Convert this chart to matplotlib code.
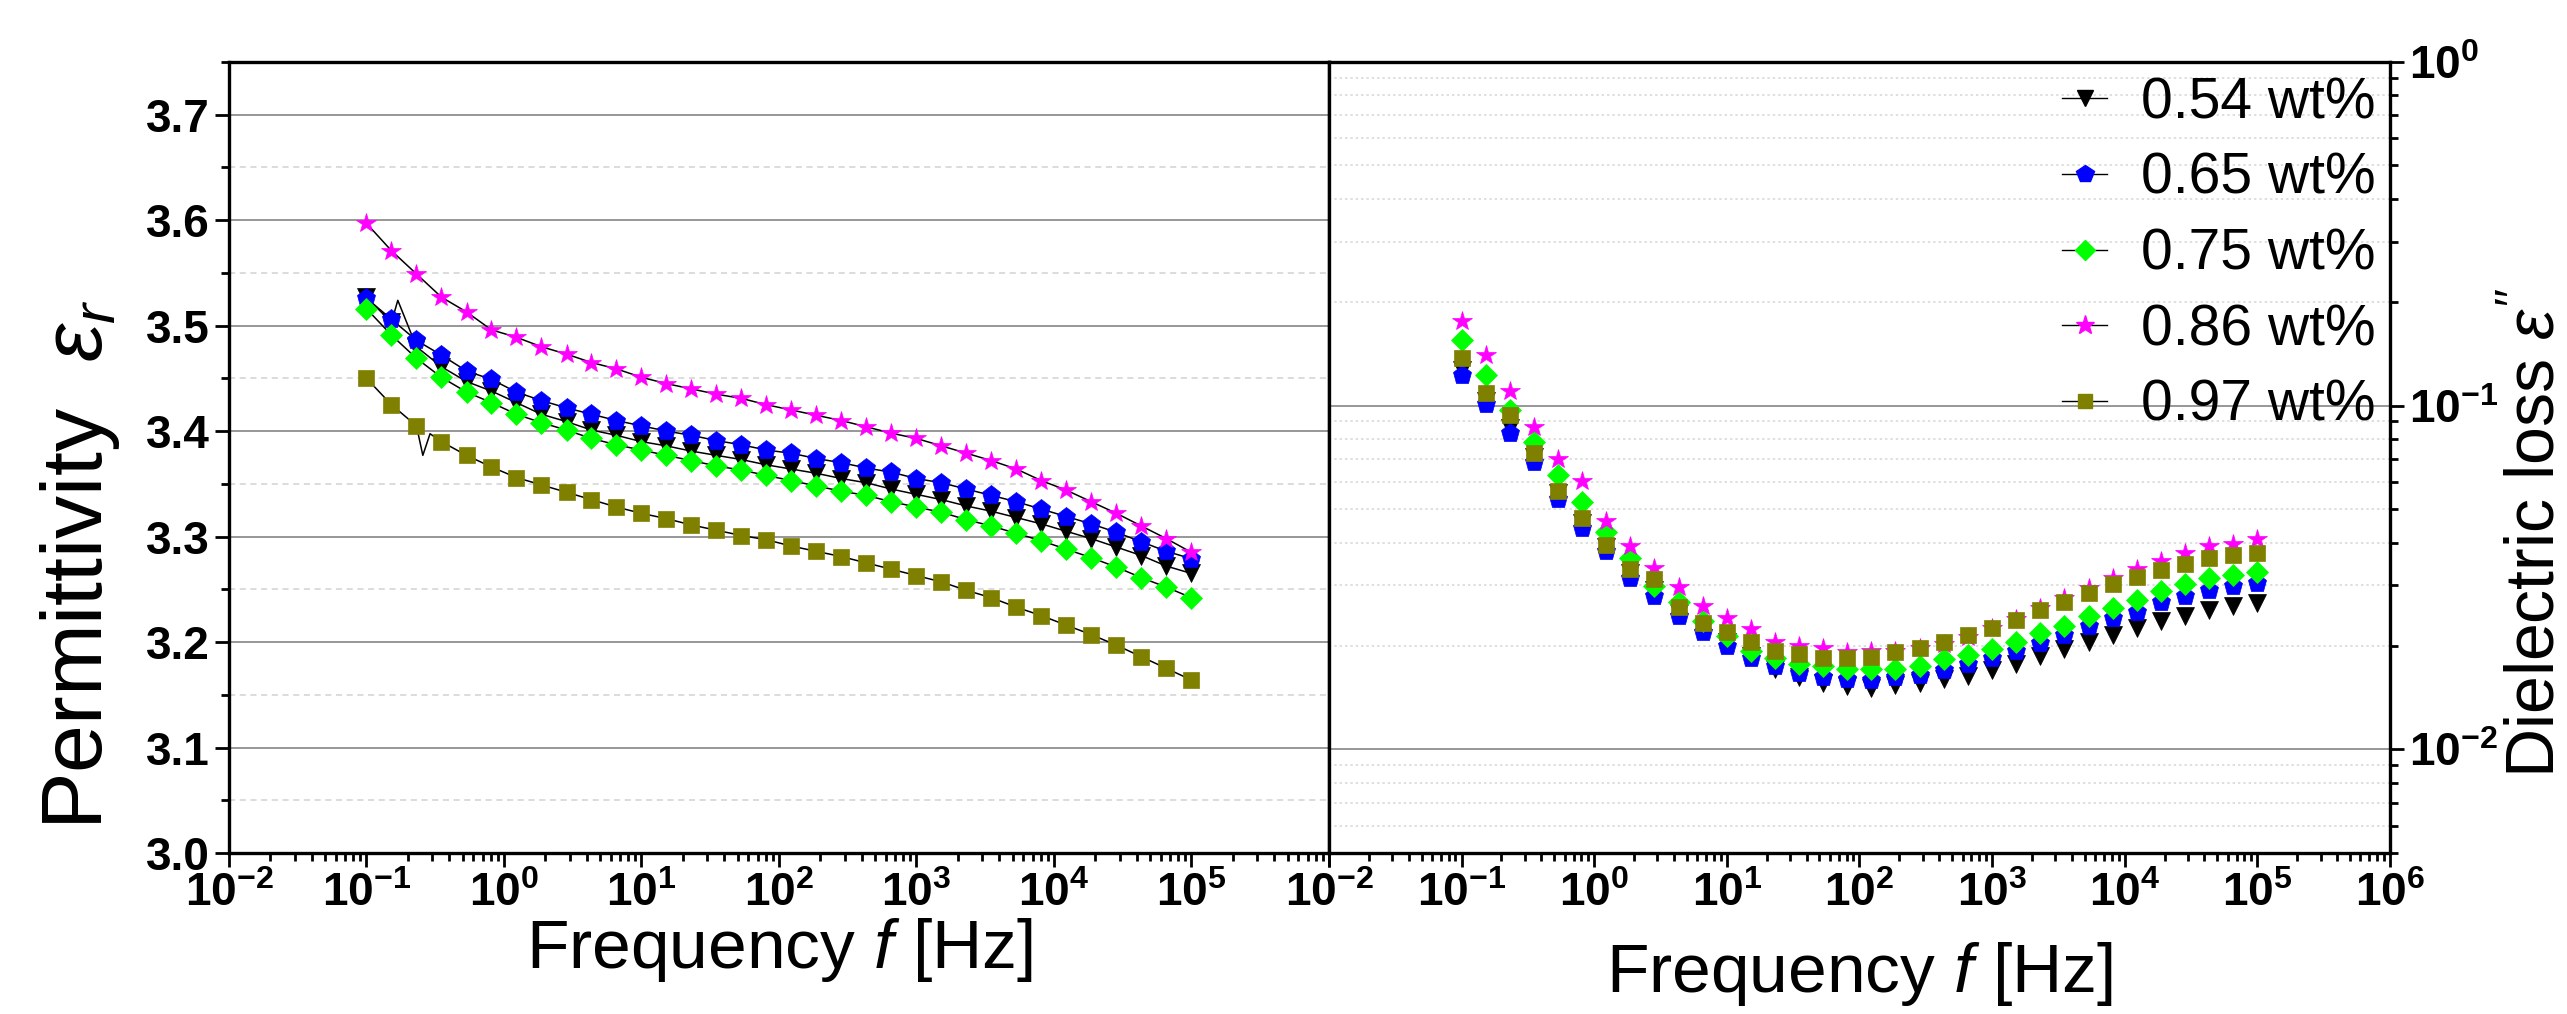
import matplotlib
matplotlib.use('Agg')
from matplotlib import pyplot as plt
from matplotlib.lines import Line2D
from matplotlib.ticker import FixedLocator, FixedFormatter, LogLocator, NullFormatter

plt.rcParams['font.family'] = ['Liberation Sans', 'DejaVu Sans']
plt.rcParams['mathtext.fontset'] = 'custom'
plt.rcParams['mathtext.rm'] = 'Liberation Sans'
plt.rcParams['mathtext.it'] = 'Liberation Sans:italic'
plt.rcParams['mathtext.bf'] = 'Liberation Sans:bold'

# 测量频率 (Hz)
freq = [0.1, 0.152, 0.231, 0.351, 0.534, 0.811, 1.23, 1.87, 2.85, 4.33, 6.58,
        10, 15.2, 23.1, 35.1, 53.4, 81.1, 123, 187, 285, 433, 658,
        1000, 1520, 2310, 3510, 5340, 8110, 12300, 18700, 28500, 43300, 65800, 100000]

labels = ['0.54 wt%', '0.65 wt%', '0.75 wt%', '0.86 wt%', '0.97 wt%']
colors = ['black', '#0000ff', '#00ff00', '#ff00ff', '#808000']
markers = ['v', 'p', 'D', '*', 's']
msizes = [13, 14, 11, 15, 11]

# 介电常数 eps_r
eps_054 = [3.527, 3.503, 3.480, 3.461, 3.447, 3.438, 3.427, 3.416, 3.409, 3.401, 3.396,
           3.390, 3.386, 3.381, 3.377, 3.373, 3.368, 3.364, 3.360, 3.355, 3.351, 3.345,
           3.340, 3.335, 3.329, 3.324, 3.318, 3.312, 3.305, 3.298, 3.290, 3.282, 3.272, 3.265]
eps_065 = [3.526, 3.506, 3.486, 3.472, 3.457, 3.449, 3.437, 3.429, 3.422, 3.416, 3.410,
           3.405, 3.400, 3.396, 3.391, 3.387, 3.382, 3.379, 3.374, 3.370, 3.365, 3.361,
           3.355, 3.351, 3.345, 3.339, 3.333, 3.326, 3.319, 3.312, 3.304, 3.295, 3.286, 3.279]
eps_075 = [3.516, 3.491, 3.469, 3.451, 3.437, 3.427, 3.416, 3.408, 3.401, 3.393, 3.387,
           3.382, 3.377, 3.372, 3.367, 3.363, 3.358, 3.353, 3.348, 3.343, 3.339, 3.333,
           3.328, 3.323, 3.316, 3.310, 3.303, 3.296, 3.288, 3.280, 3.271, 3.261, 3.252, 3.242]
eps_086 = [3.597, 3.571, 3.549, 3.527, 3.513, 3.496, 3.489, 3.480, 3.473, 3.465, 3.459,
           3.451, 3.445, 3.440, 3.435, 3.431, 3.425, 3.420, 3.415, 3.410, 3.404, 3.398,
           3.393, 3.386, 3.379, 3.372, 3.364, 3.353, 3.344, 3.333, 3.322, 3.310, 3.298, 3.285]
eps_097 = [3.450, 3.425, 3.405, 3.390, 3.377, 3.366, 3.356, 3.349, 3.342, 3.335, 3.328,
           3.322, 3.317, 3.311, 3.306, 3.301, 3.297, 3.291, 3.286, 3.281, 3.275, 3.269,
           3.263, 3.257, 3.249, 3.242, 3.233, 3.225, 3.216, 3.207, 3.197, 3.186, 3.175, 3.164]

# 连线中的毛刺点
spike_054_f, spike_054_v = [0.169], [3.524]
spike_097_f, spike_097_v = [0.257, 0.29], [3.377, 3.3975]

# 介电损耗 eps''
loss_054 = [0.127, 0.1035, 0.0864, 0.0707, 0.0557, 0.0457, 0.0387, 0.0327, 0.0292, 0.0250, 0.0224,
            0.0205, 0.0187, 0.0171, 0.0162, 0.0156, 0.0153, 0.0151, 0.01545, 0.0156, 0.0160, 0.0164,
            0.0170, 0.0177, 0.0187, 0.0196, 0.0205, 0.0216, 0.0226, 0.0236, 0.0245, 0.0254, 0.0261, 0.0266]
loss_065 = [0.123, 0.101, 0.0834, 0.0684, 0.0534, 0.0442, 0.0378, 0.0316, 0.0280, 0.0245, 0.0219,
            0.0200, 0.0185, 0.0175, 0.0167, 0.0162, 0.0160, 0.0159, 0.0162, 0.0165, 0.0170, 0.0177,
            0.0185, 0.0193, 0.0204, 0.0216, 0.0229, 0.0241, 0.0252, 0.0268, 0.0279, 0.0292, 0.0299, 0.0306]
loss_075 = [0.155, 0.1225, 0.0975, 0.0782, 0.0628, 0.0523, 0.0428, 0.0361, 0.0299, 0.0269, 0.0237,
            0.0214, 0.0193, 0.0185, 0.0177, 0.0175, 0.0171, 0.0171, 0.0172, 0.0175, 0.0183, 0.0188,
            0.0196, 0.0206, 0.0218, 0.0229, 0.0244, 0.0258, 0.0273, 0.0289, 0.0302, 0.0316, 0.0321, 0.0328]
loss_086 = [0.176, 0.140, 0.110, 0.0865, 0.0700, 0.0602, 0.0462, 0.0391, 0.0338, 0.0296, 0.0261,
            0.0242, 0.0224, 0.0205, 0.0200, 0.0198, 0.0192, 0.0193, 0.0194, 0.0197, 0.0203, 0.0212,
            0.0226, 0.0240, 0.0258, 0.0275, 0.0295, 0.0316, 0.0334, 0.0353, 0.0373, 0.0392, 0.0397, 0.0409]
loss_097 = [0.1374, 0.109, 0.0938, 0.0728, 0.0565, 0.0470, 0.0393, 0.0334, 0.0314, 0.0259, 0.0234,
            0.0219, 0.0205, 0.0193, 0.0189, 0.0185, 0.0184, 0.0186, 0.0192, 0.0197, 0.0206, 0.0215,
            0.0225, 0.0238, 0.0254, 0.0269, 0.0285, 0.0302, 0.0318, 0.0332, 0.0347, 0.0361, 0.0367, 0.0373]

xtick_vals = [1e-2, 1e-1, 1e0, 1e1, 1e2, 1e3, 1e4, 1e5, 1e6]
xtick_left = [r'$\mathbf{10^{-2}}$', r'$\mathbf{10^{-1}}$', r'$\mathbf{10^{0}}$', r'$\mathbf{10^{1}}$',
              r'$\mathbf{10^{2}}$', r'$\mathbf{10^{3}}$', r'$\mathbf{10^{4}}$', r'$\mathbf{10^{5}}$', '']
xtick_right = xtick_left[:-1] + [r'$\mathbf{10^{6}}$']
ytick_left = [3.0, 3.1, 3.2, 3.3, 3.4, 3.5, 3.6, 3.7]
ytick_right = [1e-2, 1e-1, 1e0]
ytick_right_lab = [r'$\mathbf{10^{-2}}$', r'$\mathbf{10^{-1}}$', r'$\mathbf{10^{0}}$']

eps_all = [eps_054, eps_065, eps_075, eps_086, eps_097]
loss_all = [loss_054, loss_065, loss_075, loss_086, loss_097]


def merge(f, v, sf, sv):
    pts = sorted(list(zip(f, v)) + list(zip(sf, sv)))
    return [p[0] for p in pts], [p[1] for p in pts]


fig = plt.figure(figsize=(25.67, 10.14), dpi=100)
ax1 = fig.add_axes([0.0892, 0.1588, 0.4285, 0.7801])
ax2 = fig.add_axes([0.5177, 0.1588, 0.4133, 0.7801])

# 左图：介电常数
for i in range(5):
    lf, lv = freq, eps_all[i]
    if i == 0:
        lf, lv = merge(freq, eps_054, spike_054_f, spike_054_v)
    if i == 4:
        lf, lv = merge(freq, eps_097, spike_097_f, spike_097_v)
    ax1.plot(lf, lv, color='black', linewidth=1.1, zorder=3)
    ax1.plot(freq, eps_all[i], linestyle='none', marker=markers[i], markersize=msizes[i],
             markerfacecolor=colors[i], markeredgecolor=colors[i], markeredgewidth=0.5, zorder=3)

# 右图：介电损耗
for i in range(5):
    ax2.plot(freq, loss_all[i], linestyle='none', marker=markers[i], markersize=msizes[i],
             markerfacecolor=colors[i], markeredgecolor=colors[i], markeredgewidth=0.5, zorder=3)

ax1.set_xscale('log')
ax1.set_xlim(1e-2, 1e6)
ax1.set_ylim(3.0, 3.75)
ax1.yaxis.set_major_locator(FixedLocator(ytick_left))
ax1.yaxis.set_major_formatter(FixedFormatter(['%.1f' % v for v in ytick_left]))
ax1.yaxis.set_minor_locator(FixedLocator([v + 0.05 for v in ytick_left]))
ax1.grid(axis='y', which='major', color='#8f8f8f', linewidth=1.3, linestyle='-')
ax1.grid(axis='y', which='minor', color='#d2d2d2', linewidth=1.1, linestyle=(0, (4, 3)))

ax2.set_xscale('log')
ax2.set_yscale('log')
ax2.set_xlim(1e-2, 1e6)
ax2.set_ylim(0.005, 1)
ax2.yaxis.tick_right()
ax2.yaxis.set_label_position('right')
ax2.yaxis.set_major_locator(FixedLocator(ytick_right))
ax2.yaxis.set_major_formatter(FixedFormatter(ytick_right_lab))
ax2.yaxis.set_minor_locator(LogLocator(base=10, subs=[2, 3, 4, 5, 6, 7, 8, 9]))
ax2.yaxis.set_minor_formatter(NullFormatter())
ax2.grid(axis='y', which='major', color='#8f8f8f', linewidth=1.3, linestyle='-')
ax2.grid(axis='y', which='minor', color='#d5d5d5', linewidth=1.1, linestyle=(0, (1.5, 2)))

for ax, labs in [(ax1, xtick_left), (ax2, xtick_right)]:
    ax.xaxis.set_major_locator(FixedLocator(xtick_vals))
    ax.xaxis.set_major_formatter(FixedFormatter(labs))
    ax.xaxis.set_minor_locator(LogLocator(base=10, subs=[2, 3, 4, 5, 6, 7, 8, 9], numticks=20))
    ax.xaxis.set_minor_formatter(NullFormatter())
    ax.tick_params(which='major', length=10, width=2, direction='out', labelsize=33, pad=4)
    ax.tick_params(which='minor', length=6, width=2, direction='out')
    for s in ax.spines.values():
        s.set_linewidth(2.4)
    ax.set_axisbelow(True)
    ax.set_xlabel(r'Frequency $f$ [Hz]', fontsize=50)

for t in ax1.get_yticklabels():
    t.set_fontweight('bold')

ax1.xaxis.set_label_coords(0.5, -0.08)
ax2.xaxis.set_label_coords(0.5, -0.11)

ax1.set_ylabel(r'Permittivity  $\varepsilon_r$', fontsize=62)
ax1.yaxis.set_label_coords(-0.097, 0.365)
ax2.set_ylabel(r"Dielectric loss $\varepsilon''$", fontsize=49)
ax2.yaxis.set_label_coords(1.108, 0.405)

handles = [Line2D([], [], color='black', linewidth=1.0, marker=markers[i], markersize=msizes[i] - 1,
                  markerfacecolor=colors[i], markeredgecolor=colors[i]) for i in range(5)]
ax2.legend(handles, labels, loc='upper right', bbox_to_anchor=(0.987, 0.982), frameon=False,
           fontsize=41, handlelength=0.8, handletextpad=0.6, labelspacing=0.38,
           borderpad=0, borderaxespad=0)

fig.savefig('out.png', dpi=100)
